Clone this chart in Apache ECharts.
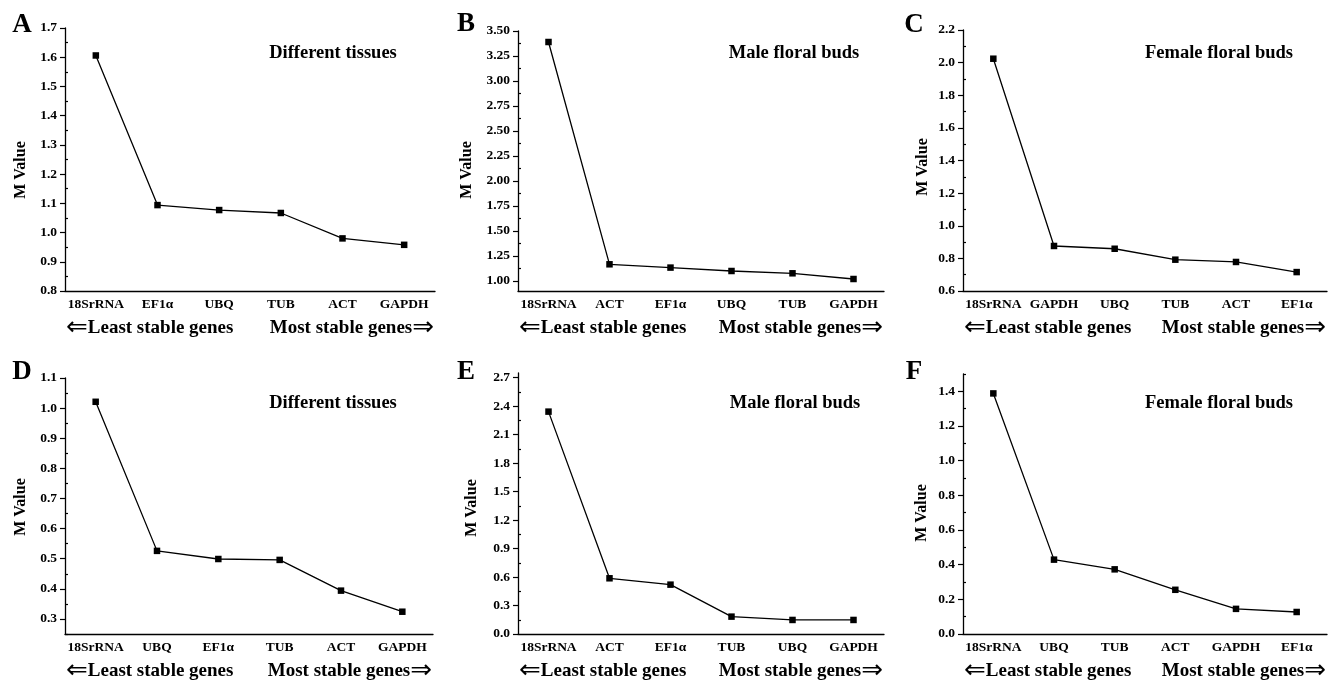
<!DOCTYPE html>
<html>
<head>
<meta charset="utf-8">
<script src="https://cdn.jsdelivr.net/npm/echarts@6/dist/echarts.min.js"></script>
<style>
  html, body { margin: 0; padding: 0; background: #fff; }
  #main { width: 1333px; height: 682px; }
</style>
</head>
<body>
<div id="main"></div>
<script>
// gene order (least stable -> most stable) and M values per panel
var catsA = ['18SrRNA', 'EF1α', 'UBQ', 'TUB', 'ACT', 'GAPDH'];
var valsA = [1.606, 1.094, 1.077, 1.067, 0.980, 0.958];
var ticksA = [0.8, 0.9, 1.0, 1.1, 1.2, 1.3, 1.4, 1.5, 1.6, 1.7];

var catsB = ['18SrRNA', 'ACT', 'EF1α', 'UBQ', 'TUB', 'GAPDH'];
var valsB = [3.39, 1.167, 1.134, 1.10, 1.077, 1.02];
var ticksB = [1.00, 1.25, 1.50, 1.75, 2.00, 2.25, 2.50, 2.75, 3.00, 3.25, 3.50];

var catsC = ['18SrRNA', 'GAPDH', 'UBQ', 'TUB', 'ACT', 'EF1α'];
var valsC = [2.024, 0.876, 0.859, 0.792, 0.778, 0.716];
var ticksC = [0.6, 0.8, 1.0, 1.2, 1.4, 1.6, 1.8, 2.0, 2.2];

var catsD = ['18SrRNA', 'UBQ', 'EF1α', 'TUB', 'ACT', 'GAPDH'];
var valsD = [1.021, 0.526, 0.499, 0.496, 0.394, 0.324];
var ticksD = [0.3, 0.4, 0.5, 0.6, 0.7, 0.8, 0.9, 1.0, 1.1];

var catsE = ['18SrRNA', 'ACT', 'EF1α', 'TUB', 'UBQ', 'GAPDH'];
var valsE = [2.343, 0.587, 0.520, 0.183, 0.148, 0.148];
var ticksE = [0.0, 0.3, 0.6, 0.9, 1.2, 1.5, 1.8, 2.1, 2.4, 2.7];

var catsF = ['18SrRNA', 'UBQ', 'TUB', 'ACT', 'GAPDH', 'EF1α'];
var valsF = [1.388, 0.429, 0.373, 0.255, 0.145, 0.127];
var ticksF = [0.0, 0.2, 0.4, 0.6, 0.8, 1.0, 1.2, 1.4];

var panels = [
  { letter: 'A', title: 'Different tissues', cats: catsA, vals: valsA, ticks: ticksA, dec: 1, min: 0.8, max: 1.7,
    box: [65, 28, 370, 263], titleX: 333, titleY: 53, nameX: 21, nameY: 170, letterX: 22, letterY: 25 },
  { letter: 'B', title: 'Male floral buds', cats: catsB, vals: valsB, ticks: ticksB, dec: 2, min: 0.9, max: 3.5,
    box: [518, 31, 366, 260], titleX: 794, titleY: 53, nameX: 467, nameY: 170, letterX: 466, letterY: 24 },
  { letter: 'C', title: 'Female floral buds', cats: catsC, vals: valsC, ticks: ticksC, dec: 1, min: 0.6, max: 2.2,
    box: [963, 30, 364, 261], titleX: 1219, titleY: 53, nameX: 923, nameY: 167, letterX: 914, letterY: 25 },
  { letter: 'D', title: 'Different tissues', cats: catsD, vals: valsD, ticks: ticksD, dec: 1, min: 0.25, max: 1.1,
    box: [65, 378, 368, 256], titleX: 333, titleY: 403, nameX: 21, nameY: 507, letterX: 22, letterY: 372 },
  { letter: 'E', title: 'Male floral buds', cats: catsE, vals: valsE, ticks: ticksE, dec: 1, min: 0, max: 2.75,
    box: [518, 373, 366, 261], titleX: 795, titleY: 403, nameX: 472, nameY: 508, letterX: 466, letterY: 372 },
  { letter: 'F', title: 'Female floral buds', cats: catsF, vals: valsF, ticks: ticksF, dec: 1, min: 0, max: 1.5,
    box: [963, 374, 364, 260], titleX: 1219, titleY: 403, nameX: 922, nameY: 513, letterX: 914, letterY: 372 }
];

var serif = '"Liberation Serif", "Times New Roman", "DejaVu Serif", serif';

var grids = [], xAxes = [], yAxes = [], series = [], graphics = [];

panels.forEach(function (p, i) {
  var b = p.box;
  grids.push({ left: b[0], top: b[1], width: b[2], height: b[3] });

  // category axis: labels + short ticks at band edges
  xAxes.push({
    type: 'category', gridIndex: i, position: 'bottom', data: p.cats, boundaryGap: true,
    axisLine: { lineStyle: { color: '#000', width: 1.3 } },
    axisTick: { interval: 0, length: 3, lineStyle: { color: '#000', width: 1.2 } },
    axisLabel: { interval: 0, margin: 7, color: '#000', fontFamily: serif, fontWeight: 'bold', fontSize: 13.5 },
    splitLine: { show: false }
  });
  // longer ticks at the category centres
  xAxes.push({
    type: 'category', gridIndex: i, position: 'bottom', data: p.cats, boundaryGap: true,
    axisLine: { show: false },
    axisTick: { alignWithLabel: true, interval: 0, length: 5, lineStyle: { color: '#000', width: 1.2 } },
    axisLabel: { show: false },
    splitLine: { show: false }
  });

  var minor = [];
  var step = p.ticks[1] - p.ticks[0];
  for (var k = 0; k < p.ticks.length; k++) {
    var m = +(p.ticks[k] + step / 2).toFixed(4);
    if (m <= p.max) minor.push(m);
  }
  var m0 = +(p.ticks[0] - step / 2).toFixed(4);
  if (m0 >= p.min - 1e-9) minor.push(m0);

  yAxes.push({
    type: 'value', gridIndex: i, position: 'left', min: p.min, max: p.max,
    axisLine: { show: true, lineStyle: { color: '#000', width: 1.3 } },
    axisTick: { show: true, length: 5, customValues: p.ticks, lineStyle: { color: '#000', width: 1.2 } },
    axisLabel: {
      customValues: p.ticks, margin: 8, color: '#000', fontFamily: serif, fontWeight: 'bold', fontSize: 13.5,
      formatter: (function (d) { return function (v) { return v.toFixed(d); }; })(p.dec)
    },
    splitLine: { show: false }
  });
  yAxes.push({
    type: 'value', gridIndex: i, position: 'left', min: p.min, max: p.max,
    axisLine: { show: false },
    axisTick: { show: true, inside: true, length: 3, customValues: minor, lineStyle: { color: '#000', width: 1.2 } },
    axisLabel: { show: false },
    splitLine: { show: false }
  });

  series.push({
    type: 'line', xAxisIndex: i * 2, yAxisIndex: i * 2, data: p.vals,
    symbol: 'rect', symbolSize: 6.5, silent: true,
    lineStyle: { color: '#000', width: 1.3 },
    itemStyle: { color: '#000' }
  });

  graphics.push({
    type: 'text', x: p.letterX, y: p.letterY,
    style: { text: p.letter, font: 'bold 27px ' + serif, fill: '#000', align: 'center', verticalAlign: 'middle' }
  });
  graphics.push({
    type: 'text', x: p.titleX, y: p.titleY,
    style: { text: p.title, font: 'bold 18.5px ' + serif, fill: '#000', align: 'center', verticalAlign: 'middle' }
  });
  graphics.push({
    type: 'text', x: p.nameX, y: p.nameY, rotation: Math.PI / 2,
    style: { text: 'M Value', font: 'bold 16px ' + serif, fill: '#000', align: 'center', verticalAlign: 'middle' }
  });
  var ly = b[1] + b[3] + 37;
  var arrowRich = {
    ar: { fontFamily: '"DejaVu Sans", sans-serif', fontSize: 26, fontWeight: 'normal', color: '#000' },
    tx: { fontFamily: serif, fontSize: 19, fontWeight: 'bold', color: '#000' }
  };
  graphics.push({
    type: 'text', x: b[0] + 1, y: ly,
    style: { text: '{ar|⇐}{tx|Least stable genes}', rich: arrowRich, fill: '#000', align: 'left', verticalAlign: 'middle' }
  });
  graphics.push({
    type: 'text', x: b[0] + b[2] - 1, y: ly,
    style: { text: '{tx|Most stable genes}{ar|⇒}', rich: arrowRich, fill: '#000', align: 'right', verticalAlign: 'middle' }
  });
});

var chart = echarts.init(document.getElementById('main'));
chart.setOption({
  animation: false,
  backgroundColor: '#fff',
  grid: grids,
  xAxis: xAxes,
  yAxis: yAxes,
  series: series,
  graphic: graphics
});
</script>
</body>
</html>
